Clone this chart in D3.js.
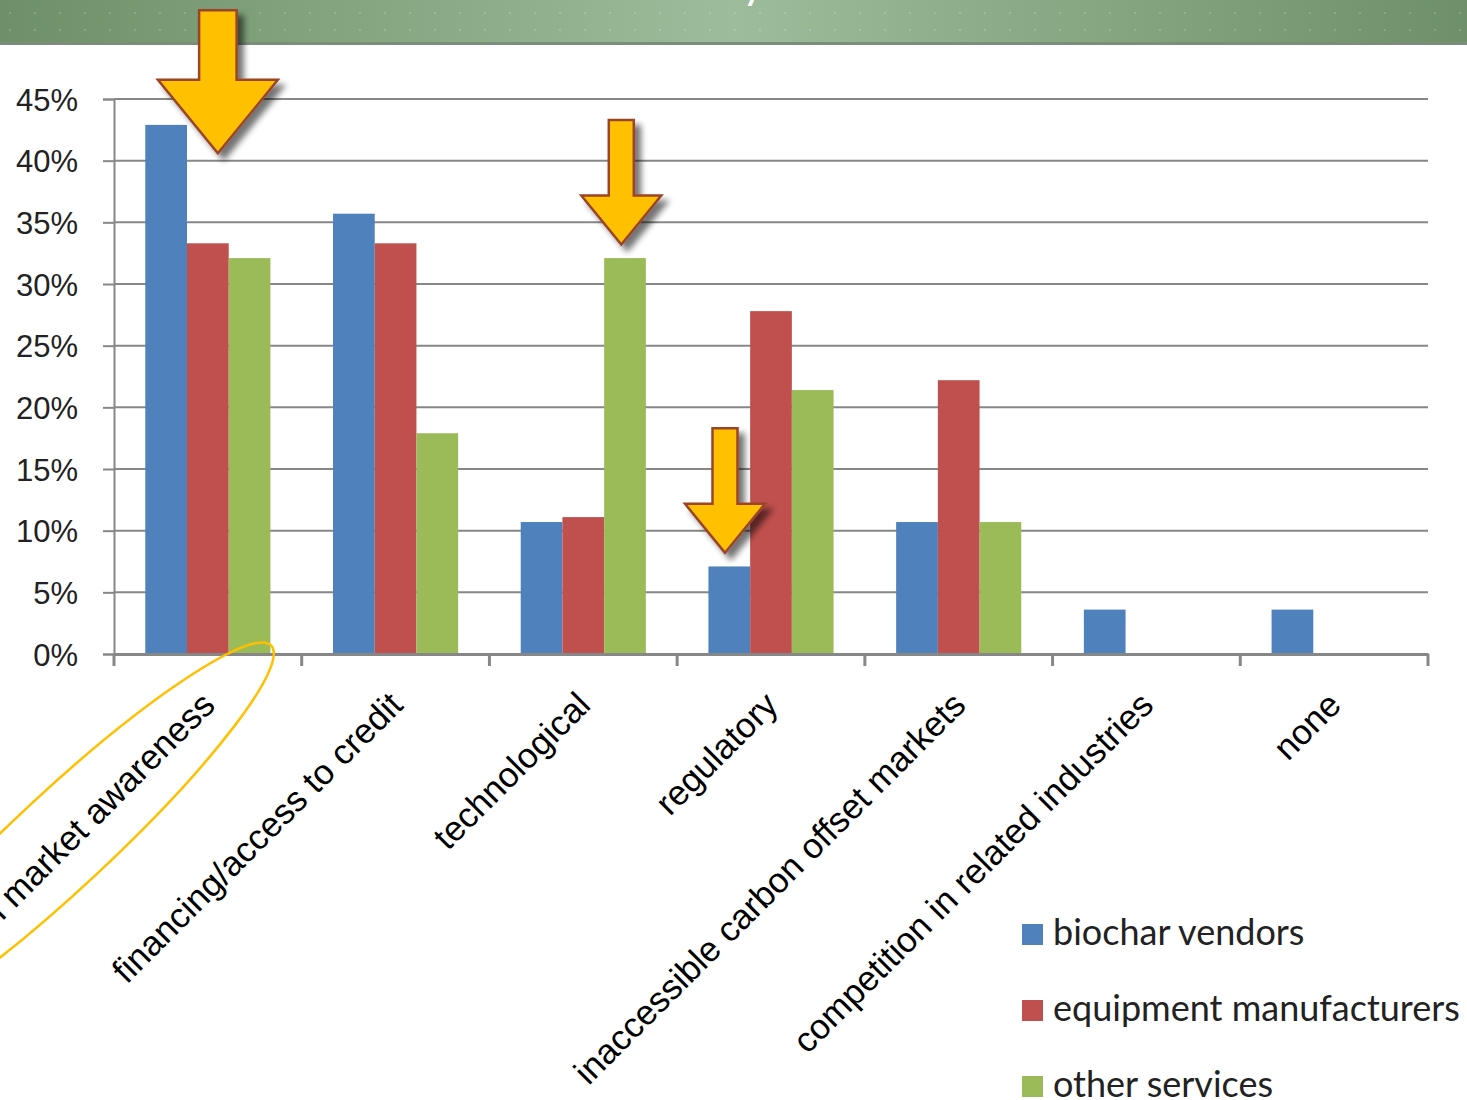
<!DOCTYPE html>
<html>
<head>
    <meta charset="utf-8">
    <script src="https://d3js.org/d3.v7.min.js"></script>
    <style>
        body { margin: 0; background: #fff; }
        svg { display: block; font-family: Lato, "Open Sans", sans-serif; }
    </style>
</head>
<body>
    <svg id="chart"></svg>
    <script>
        // data
        var categories = ["lack in market awareness", "financing/access to credit", "technological",
            "regulatory", "inaccessible carbon offset markets", "competition in related industries", "none"];
        var series = ["biochar vendors", "equipment manufacturers", "other services"];
        var biocharVendors = [0.429, 0.357, 0.107, 0.071, 0.107, 0.036, 0.036];
        var equipmentManufacturers = [0.333, 0.333, 0.111, 0.278, 0.222, 0, 0];
        var otherServices = [0.321, 0.179, 0.321, 0.214, 0.107, 0, 0];
        var yTicks = [0, 0.05, 0.10, 0.15, 0.20, 0.25, 0.30, 0.35, 0.40, 0.45];
        var colors = ["#4F81BD", "#C0504D", "#9BBB59"];

        // arrows pointing at bars (category, x offset from band centre, tip and tail value, size)
        var arrows = [
            { cat: "lack in market awareness", dx: 10, tip: 0.406, tail: 0.522, size: 1.5 },
            { cat: "technological", dx: 38, tip: 0.332, tail: 0.433, size: 1 },
            { cat: "regulatory", dx: -46, tip: 0.082, tail: 0.183, size: 1 }
        ];

        var values = [biocharVendors, equipmentManufacturers, otherServices];
        var table = categories.map(function (c, i) {
            return { cat: c, vals: series.map(function (s, j) { return { s: s, v: values[j][i], k: j } }) }
        });

        var width = 1467, height = 1100;
        var plot = { left: 114, right: 1428, top: 99, bottom: 654 };

        var svg = d3.select("#chart")
            .attr("width", width)
            .attr("height", height);

        var defs = svg.append("defs");

        // banner
        var grad = defs.append("linearGradient").attr("id", "banner");
        grad.append("stop").attr("offset", "0%").attr("stop-color", "#6e9068");
        grad.append("stop").attr("offset", "50%").attr("stop-color", "#9dbc9b");
        grad.append("stop").attr("offset", "100%").attr("stop-color", "#6e9068");

        var pat = defs.append("pattern").attr("id", "dots")
            .attr("width", 25).attr("height", 17).attr("patternUnits", "userSpaceOnUse");
        pat.append("circle").attr("cx", 10).attr("cy", 13).attr("r", 0.9)
            .attr("fill", "#fff").attr("opacity", 0.25);

        var shadow = defs.append("filter").attr("id", "shadow")
            .attr("x", "-30%").attr("y", "-30%").attr("width", "160%").attr("height", "160%");
        shadow.append("feGaussianBlur").attr("in", "SourceAlpha").attr("stdDeviation", 3);
        shadow.append("feOffset").attr("dx", 6).attr("dy", 6).attr("result", "off");
        shadow.append("feComponentTransfer").append("feFuncA").attr("type", "linear").attr("slope", 0.55);
        var merge = shadow.append("feMerge");
        merge.append("feMergeNode");
        merge.append("feMergeNode").attr("in", "SourceGraphic");

        svg.append("rect").attr("x", 0).attr("y", 0).attr("width", width).attr("height", 43)
            .attr("fill", "url(#banner)");
        svg.append("rect").attr("x", 0).attr("y", 0).attr("width", width).attr("height", 43)
            .attr("fill", "url(#dots)");
        svg.append("rect").attr("x", 0).attr("y", 42).attr("width", width).attr("height", 3)
            .attr("fill", "#7d8d7b");
        // tail of the title that is cut off above
        svg.append("text").attr("x", 742).attr("y", -2)
            .style("font-size", "44px").attr("fill", "#fff").text("y");

        // scales
        var x = d3.scaleBand()
            .domain(categories)
            .range([plot.left, plot.right]);

        var xSub = d3.scaleBand()
            .domain(series)
            .range([0, x.bandwidth()])
            .paddingOuter(0.75);

        var y = d3.scaleLinear()
            .domain([0, 0.45])
            .range([plot.bottom, plot.top]);

        // gridlines
        svg.append("g")
            .selectAll("line")
            .data(yTicks)
            .join("line")
            .attr("x1", plot.left)
            .attr("x2", plot.right)
            .attr("y1", d => y(d))
            .attr("y2", d => y(d))
            .style("stroke", "#878787")
            .style("stroke-width", 2);

        // y axis
        var yAxis = svg.append("g")
            .attr("transform", "translate(" + plot.left + ",0)")
            .call(d3.axisLeft(y).tickValues(yTicks).tickSize(11).tickPadding(25)
                .tickFormat(d3.format(".0%")));
        yAxis.select(".domain").attr("stroke", "#878787").attr("stroke-width", 2);
        yAxis.selectAll(".tick line").attr("stroke", "#878787").attr("stroke-width", 2);
        yAxis.selectAll(".tick text")
            .style("font-size", "31px")
            .attr("fill", "#222")
            .attr("dy", "0.36em");

        // bars
        svg.append("g")
            .selectAll("g")
            .data(table)
            .join("g")
            .attr("transform", d => "translate(" + x(d.cat) + ",0)")
            .selectAll("rect")
            .data(d => d.vals.filter(v => v.v > 0))
            .join("rect")
            .attr("x", d => xSub(d.s))
            .attr("width", xSub.bandwidth())
            .attr("y", d => y(d.v))
            .attr("height", d => y(0) - y(d.v))
            .attr("fill", d => colors[d.k]);

        // x axis
        var xAxis = svg.append("g")
            .attr("transform", "translate(0," + plot.bottom + ")")
            .call(d3.axisBottom(x).tickSize(0).tickPadding(0));
        xAxis.select(".domain").attr("stroke", "#878787").attr("stroke-width", 3);
        xAxis.selectAll(".tick text")
            .attr("y", 0)
            .attr("dy", 0)
            .attr("transform", "translate(9,53) rotate(-45)")
            .style("text-anchor", "end")
            .style("font-size", "35px")
            .attr("fill", "#000");

        var bounds = categories.map(c => x(c)).concat([plot.right]);
        svg.append("g")
            .selectAll("line")
            .data(bounds)
            .join("line")
            .attr("x1", d => d).attr("x2", d => d)
            .attr("y1", plot.bottom).attr("y2", plot.bottom + 12)
            .style("stroke", "#878787")
            .style("stroke-width", 3);

        // circle round the first label
        var first = x(categories[0]) + x.bandwidth() / 2;
        svg.append("ellipse")
            .attr("transform", "translate(" + (first - 145) + "," + (plot.bottom + 186) + ") rotate(-43)")
            .attr("rx", 285)
            .attr("ry", 48)
            .attr("fill", "none")
            .style("stroke", "#FFC000")
            .style("stroke-width", 2.5);

        // legend
        var legend = svg.append("g")
            .attr("transform", "translate(1022,945)")
            .selectAll("g")
            .data(series)
            .join("g")
            .attr("transform", (d, i) => "translate(0," + (i * 76) + ")");
        legend.append("rect")
            .attr("x", 0).attr("y", -21)
            .attr("width", 21).attr("height", 21)
            .attr("fill", (d, i) => colors[i]);
        legend.append("text")
            .attr("x", 31).attr("y", 0)
            .text(d => d)
            .style("font-size", "36px")
            .attr("fill", "#222");

        // arrows
        function arrowPath(d) {
            var s = d.size, head = 49 * s, hw = 40 * s, sw = 12.5 * s, len = y(d.tip) - y(d.tail);
            return "M0,0 L" + (-hw) + "," + (-head) + " L" + (-sw) + "," + (-head) +
                " L" + (-sw) + "," + (-len) + " L" + sw + "," + (-len) + " L" + sw + "," + (-head) +
                " L" + hw + "," + (-head) + " Z";
        }
        svg.append("g")
            .selectAll("path")
            .data(arrows)
            .join("path")
            .attr("transform", d => "translate(" + (x(d.cat) + x.bandwidth() / 2 + d.dx) + "," + y(d.tip) + ")")
            .attr("d", arrowPath)
            .attr("fill", "#FFC000")
            .style("stroke", "#9a452a")
            .style("stroke-width", 2.5)
            .style("stroke-linejoin", "miter")
            .attr("filter", "url(#shadow)");
    </script>
</body>
</html>
